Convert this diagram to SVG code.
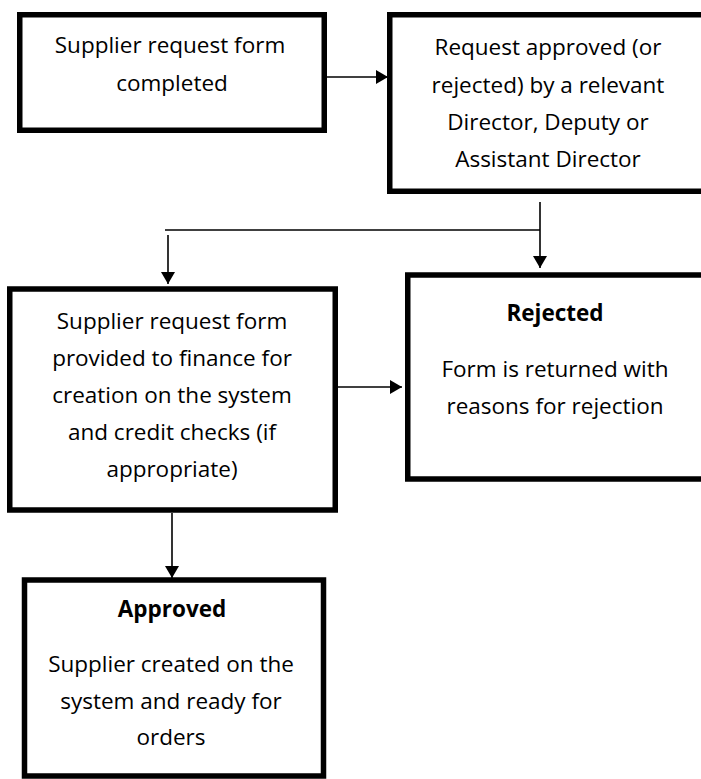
<svg xmlns="http://www.w3.org/2000/svg" width="701" height="779" viewBox="0 0 701 779">
<style>
.box{fill:#fff;stroke:#000;stroke-width:5.5}
.t{font-family:"Open Sans","Liberation Sans",sans-serif;font-size:22.5px;fill:#000;text-anchor:middle}
.b{font-weight:bold}
.c{fill:none;stroke:#000;stroke-width:1.6}
</style>
<defs>
<marker id="ah" viewBox="0 0 12 14" refX="12" refY="7" markerWidth="12" markerHeight="14" markerUnits="userSpaceOnUse" orient="auto">
<path d="M0,0 L12,7 L0,14 Z" fill="#000"/>
</marker>
</defs>
<rect width="701" height="779" fill="#fff"/>
<g id="connectors">
<line class="c" x1="327" y1="77" x2="388" y2="77" marker-end="url(#ah)"/>
<line class="c" x1="540" y1="202" x2="540" y2="268" marker-end="url(#ah)"/>
<line class="c" x1="165" y1="230" x2="540" y2="230"/>
<line class="c" x1="168" y1="235" x2="168" y2="284" marker-end="url(#ah)"/>
<line class="c" x1="338" y1="387" x2="402" y2="387" marker-end="url(#ah)"/>
<line class="c" x1="172" y1="513" x2="172" y2="578" marker-end="url(#ah)"/>
</g>
<g id="n1">
<rect class="box" x="19.75" y="14.75" width="304.5" height="115.5"/>
<text class="t" x="170" y="53">Supplier request form</text>
<text class="t" x="172" y="91">completed</text>
</g>
<g id="n2">
<rect class="box" x="389.75" y="14.75" width="330" height="176.5"/>
<text class="t" x="548" y="55">Request approved (or</text>
<text class="t" x="548" y="93">rejected) by a relevant</text>
<text class="t" x="548" y="130">Director, Deputy or</text>
<text class="t" x="548" y="167">Assistant Director</text>
</g>
<g id="n3">
<rect class="box" x="9.75" y="289" width="325.5" height="221"/>
<text class="t" x="172" y="329">Supplier request form</text>
<text class="t" x="172" y="366">provided to finance for</text>
<text class="t" x="172" y="403">creation on the system</text>
<text class="t" x="172" y="440">and credit checks (if</text>
<text class="t" x="172" y="477">appropriate)</text>
</g>
<g id="n4">
<rect class="box" x="407.75" y="275" width="320" height="204"/>
<text class="t b" x="555" y="321">Rejected</text>
<text class="t" x="555" y="377">Form is returned with</text>
<text class="t" x="555" y="414">reasons for rejection</text>
</g>
<g id="n5">
<rect class="box" x="24.5" y="580" width="299" height="196"/>
<text class="t b" x="172" y="617">Approved</text>
<text class="t" x="171" y="672">Supplier created on the</text>
<text class="t" x="171" y="709">system and ready for</text>
<text class="t" x="171" y="745">orders</text>
</g>
</svg>
